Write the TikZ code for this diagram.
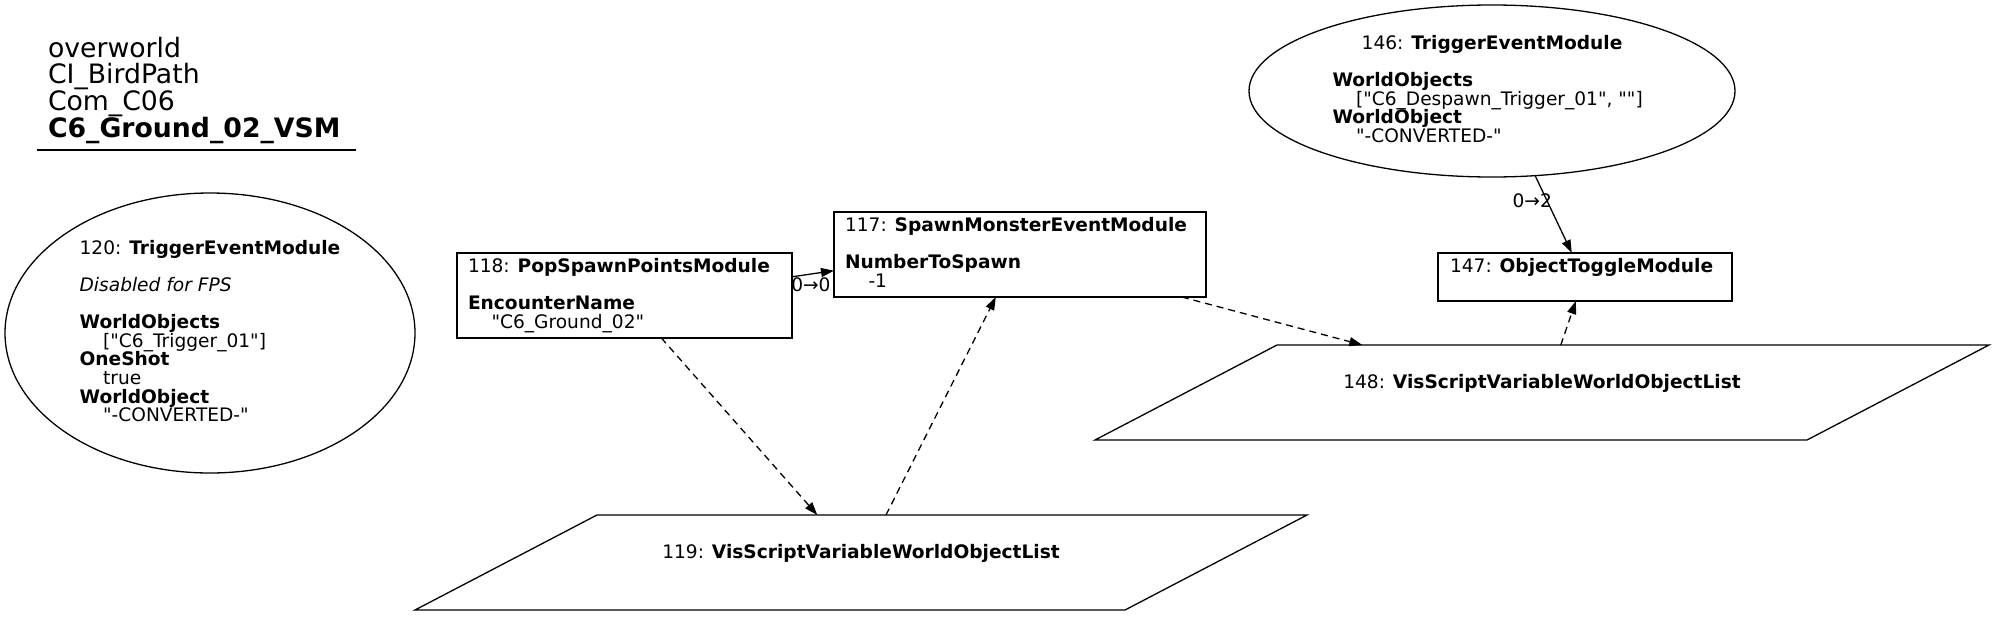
\documentclass[tikz,border=0pt]{standalone}
\usepackage{fontspec}
\setmainfont{DejaVu Sans}[Ligatures=TeXOff]
\usetikzlibrary{shapes.geometric,arrows.meta,calc}
\newcommand{\mystrut}[2]{\setbox\strutbox\hbox{\vrule height #1 depth #2 width 0pt}}
\begin{document}
\begin{tikzpicture}[x=1pt,y=-1pt,
  every node/.style={inner sep=0pt,outer sep=0pt},
  body/.style={font=\fontsize{18.6}{18.6}\selectfont\mystrut{14.3pt}{4.3pt}},
  titlefont/.style={font=\fontsize{26.7}{26.7}\selectfont\mystrut{20.5pt}{6.2pt}},
  box/.style={draw,line width=1.3pt,rectangle,body},
  oval/.style={draw,line width=1.3pt,ellipse,body},
  pgram/.style={rectangle,body},
  pgramline/.style={line width=1.3pt,line join=miter},
  flow/.style={line width=1.3pt,-{Triangle[length=13pt,width=9pt]}},
  dep/.style={flow,dash pattern=on 7pt off 5pt},
  elabel/.style={body}
]
\useasboundingbox (0,0) rectangle (1993,616);

% title
\node[titlefont,anchor=base west] (title) at (48,57) {\begin{tabular}[t]{@{}l@{}}overworld\\ CI\_BirdPath\\ Com\_C06\\ \textbf{C6\_Ground\_02\_VSM}\end{tabular}};
\draw[line width=1.3pt] (37,150) -- (356,150);

% 120
\node[oval,minimum width=410pt,minimum height=280pt] (n120) at (210,333) {\begin{tabular}{@{}l@{}}120: \textbf{TriggerEventModule}\\ \\ \textit{Disabled for FPS}\\ \\ \textbf{WorldObjects}\\ \hspace{23.5pt}["C6\_Trigger\_01"]\\ \textbf{OneShot}\\ \hspace{23.5pt}true\\ \textbf{WorldObject}\\ \hspace{23.5pt}"-CONVERTED-"\end{tabular}};

% 118
\node[box,minimum width=335pt,minimum height=85pt] (n118) at (624.5,295.5) {\begin{tabular}{@{}l@{}}\makebox[313pt][l]{118: \textbf{PopSpawnPointsModule}}\\ \\ \textbf{EncounterName}\\ \hspace{23.5pt}"C6\_Ground\_02"\end{tabular}};

% 117
\node[box,minimum width=372pt,minimum height=85pt] (n117) at (1020,254.5) {\begin{tabular}{@{}l@{}}\makebox[350pt][l]{117: \textbf{SpawnMonsterEventModule}}\\ \\ \textbf{NumberToSpawn}\\ \hspace{23.5pt}-1\end{tabular}};

% 146
\node[oval,minimum width=486pt,minimum height=172pt] (n146) at (1492,91) {\begin{tabular}{@{}l@{}}\makebox[319pt][c]{146: \textbf{TriggerEventModule}}\\ \\ \textbf{WorldObjects}\\ \hspace{23.5pt}["C6\_Despawn\_Trigger\_01", ""]\\ \textbf{WorldObject}\\ \hspace{23.5pt}"-CONVERTED-"\end{tabular}};

% 147
\node[box,minimum width=294pt,minimum height=48pt] (n147) at (1585,277) {\begin{tabular}{@{}l@{}}\makebox[270pt][l]{147: \textbf{ObjectToggleModule}}\\ \mbox{}\end{tabular}};

% 148
\node[pgram,minimum width=894pt,minimum height=95pt] (n148) at (1542,392.5) {\begin{tabular}{@{}c@{}}148: \textbf{VisScriptVariableWorldObjectList}\\ \mbox{}\end{tabular}};
\draw[pgramline] ($(n148.north west)+(182,0)$) -- (n148.north east) -- ($(n148.south east)-(182,0)$) -- (n148.south west) -- cycle;

% 119
\node[pgram,minimum width=892pt,minimum height=95pt] (n119) at (861,562.5) {\begin{tabular}{@{}c@{}}119: \textbf{VisScriptVariableWorldObjectList}\\ \mbox{}\end{tabular}};
\draw[pgramline] ($(n119.north west)+(182,0)$) -- (n119.north east) -- ($(n119.south east)-(182,0)$) -- (n119.south west) -- cycle;

% edges
\draw[flow] ($(n118.north east)!0.28!(n118.south east)$) -- node[elabel,pos=0.45,below=4pt]{0→0} ($(n117.north west)!0.69!(n117.south west)$);
\draw[flow] (n146.-63.7) -- node[elabel,pos=0.33,xshift=-15pt]{0→2} ($(n147.north west)!0.455!(n147.north east)$);
\draw[dep] ($(n118.south west)!0.61!(n118.south east)$) -- ($(n119.north west)!0.451!(n119.north east)$);
\draw[dep] ($(n119.north west)!0.528!(n119.north east)$) -- ($(n117.south west)!0.435!(n117.south east)$);
\draw[dep] ($(n117.south west)!0.935!(n117.south east)$) -- ($(n148.north west)!0.299!(n148.north east)$);
\draw[dep] ($(n148.north west)!0.521!(n148.north east)$) -- ($(n147.south west)!0.469!(n147.south east)$);
\end{tikzpicture}
\end{document}
